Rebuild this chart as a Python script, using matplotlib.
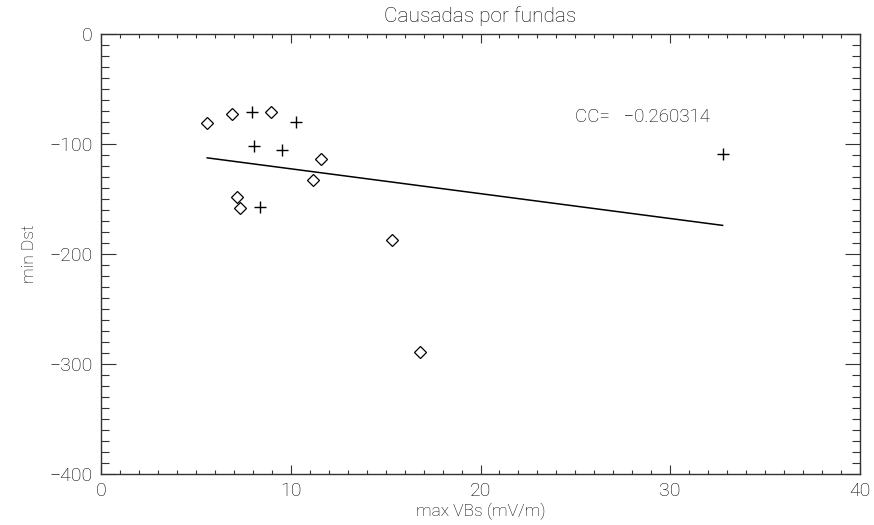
import numpy as np
import matplotlib
matplotlib.use("Agg")
import matplotlib.pyplot as plt
from matplotlib.ticker import MultipleLocator

plt.rcParams['font.family'] = ['Roboto', 'DejaVu Sans']
plt.rcParams['font.weight'] = 'light'
plt.rcParams['axes.titleweight'] = 'light'
plt.rcParams['axes.labelweight'] = 'light'

# datos: eventos causados por fundas
vbs_diamond = [5.6, 6.9, 8.96, 11.59, 11.19, 7.18, 7.32, 15.33, 16.81]
dst_diamond = [-81, -73, -71, -114, -133, -148, -158.5, -187, -289]
vbs_plus = [7.97, 10.27, 8.06, 9.52, 8.38, 32.76]
dst_plus = [-71, -80, -102, -105, -157, -109]
cc_text = "CC=   \u22120.260314"

x_all = np.array(vbs_diamond + vbs_plus)
y_all = np.array(dst_diamond + dst_plus)
slope, inter = np.polyfit(x_all, y_all, 1)
xfit = np.array([x_all.min(), x_all.max()])

fig = plt.figure(figsize=(8.74, 5.25), dpi=100)
ax = fig.add_axes([101/874, 1 - 474/525, 759/874, 440/525])

ax.plot(vbs_diamond, dst_diamond, linestyle='none', marker='D', ms=6.5,
        mfc='none', mec='black', mew=0.9)
ax.plot(vbs_plus, dst_plus, linestyle='none', marker='+', ms=9,
        color='black', mew=1.0)
ax.plot(xfit, slope * xfit + inter, color='black', lw=1.1)

ax.set_xlim(0, 40)
ax.set_ylim(-400, 0)
ax.xaxis.set_major_locator(MultipleLocator(10))
ax.xaxis.set_minor_locator(MultipleLocator(1))
ax.yaxis.set_major_locator(MultipleLocator(100))
ax.yaxis.set_minor_locator(MultipleLocator(10))

ax.tick_params(axis='both', which='both', direction='in', top=True, right=True,
               width=0.8, color='#333333', labelsize=14, labelcolor='black')
ax.tick_params(axis='x', which='major', length=6.5, pad=6)
ax.tick_params(axis='x', which='minor', length=3.2)
ax.tick_params(axis='y', which='major', length=11, pad=6)
ax.tick_params(axis='y', which='minor', length=5.5)
for s in ax.spines.values():
    s.set_linewidth(1.0)
    s.set_color('#333333')

ax.yaxis.set_major_formatter(plt.FuncFormatter(lambda v, p: f"{v:.0f}".replace('-', '\u2212')))

ax.text(25, -75, cc_text, fontsize=13.5, ha='left', va='center')
ax.set_title("Causadas por fundas", fontsize=15, pad=9)
ax.set_xlabel("max VBs (mV/m)", fontsize=12.5, labelpad=2)
ax.set_ylabel("min Dst", fontsize=12.5, labelpad=9)

fig.savefig("out.png", dpi=100)
